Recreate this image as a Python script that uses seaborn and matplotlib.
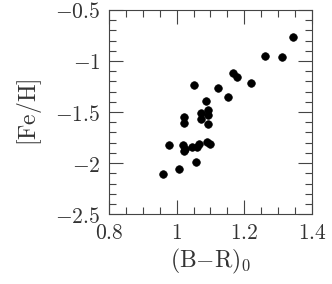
import numpy as np
import pandas as pd
import seaborn as sns
import matplotlib.pyplot as plt
from matplotlib.ticker import MultipleLocator, FixedLocator, FixedFormatter

# colour (B-R)_0 and metallicity
br0 = [1.345, 1.261, 1.310, 1.167, 1.177, 1.219, 1.051, 1.121, 1.153, 1.087,
       1.073, 1.094, 1.094, 1.073, 1.093, 1.022, 1.022, 0.977, 1.020, 1.025,
       1.044, 1.059, 1.066, 1.091, 1.099, 1.057, 1.008, 0.960, 1.022]
feh = [-0.761, -0.951, -0.964, -1.114, -1.153, -1.219, -1.239, -1.268, -1.350, -1.395,
       -1.507, -1.480, -1.529, -1.569, -1.618, -1.546, -1.611, -1.824, -1.824, -1.866,
       -1.846, -1.840, -1.814, -1.794, -1.814, -1.987, -2.056, -2.111, -1.880]

xticks = [0.8, 1.0, 1.2, 1.4]
xticklabels = [r'$\mathrm{0.8}$', r'$\mathrm{1}$', r'$\mathrm{1.2}$', r'$\mathrm{1.4}$']
yticks = [-2.5, -2.0, -1.5, -1.0, -0.5]
yticklabels = [r'$-\mathrm{2.5}$', r'$-\mathrm{2}$', r'$-\mathrm{1.5}$',
               r'$-\mathrm{1}$', r'$-\mathrm{0.5}$']

df = pd.DataFrame({'br0': br0, 'feh': feh})

sns.set_style('ticks')
plt.rcParams['font.family'] = ['DejaVu Serif']
plt.rcParams['mathtext.fontset'] = 'cm'

fig = plt.figure(figsize=(3.32, 2.84), dpi=100)
ax = fig.add_axes([0.328, 0.246, 0.612, 0.719])

sns.scatterplot(data=df, x='br0', y='feh', ax=ax, color='black', s=30,
                edgecolor='black', linewidth=0.5, legend=False)

ax.set_xlim(0.8, 1.4)
ax.set_ylim(-2.5, -0.5)
ax.xaxis.set_major_locator(FixedLocator(xticks))
ax.xaxis.set_major_formatter(FixedFormatter(xticklabels))
ax.yaxis.set_major_locator(FixedLocator(yticks))
ax.yaxis.set_major_formatter(FixedFormatter(yticklabels))
ax.xaxis.set_minor_locator(MultipleLocator(0.05))
ax.yaxis.set_minor_locator(MultipleLocator(0.1))

ax.tick_params(which='both', direction='in', top=True, right=True,
               color='#444444', width=0.8, labelsize=15.5, labelcolor='#333333')
ax.tick_params(which='major', length=10, pad=6)
ax.tick_params(which='minor', length=5)
for sp in ax.spines.values():
    sp.set_linewidth(0.8)
    sp.set_color('#444444')

ax.set_xlabel(r'$\mathrm{(B{-}R)}_{\mathsf{0}}$', fontsize=17, color='#333333', labelpad=2)
ax.set_ylabel(r'$\mathrm{[Fe/H]}$', fontsize=17, color='#333333', labelpad=8)

fig.savefig('out.png', dpi=100)
